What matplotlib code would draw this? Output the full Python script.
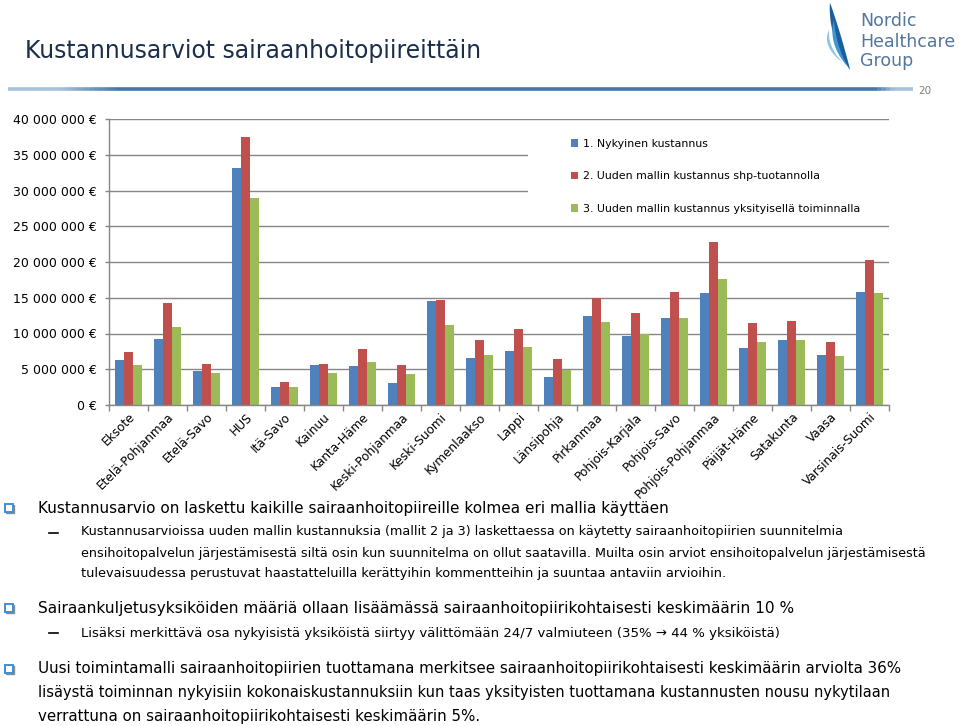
import numpy as np
import matplotlib
matplotlib.use("Agg")
import matplotlib.pyplot as plt
from matplotlib.patches import Rectangle, Polygon
from matplotlib.lines import Line2D
from matplotlib.collections import LineCollection

# ---------------- data ----------------
districts = ["Eksote", "Etelä-Pohjanmaa", "Etelä-Savo", "HUS", "Itä-Savo", "Kainuu",
             "Kanta-Häme", "Keski-Pohjanmaa", "Keski-Suomi", "Kymenlaakso", "Lappi",
             "Länsipohja", "Pirkanmaa", "Pohjois-Karjala", "Pohjois-Savo",
             "Pohjois-Pohjanmaa", "Päijät-Häme", "Satakunta", "Vaasa", "Varsinais-Suomi"]
current_cost = [6.3, 9.2, 4.8, 33.2, 2.5, 5.55, 5.45, 3.1, 14.55, 6.6, 7.5,
                3.95, 12.5, 9.65, 12.2, 15.7, 8.0, 9.1, 7.05, 15.8]
new_shp_cost = [7.4, 14.2, 5.75, 37.5, 3.2, 5.75, 7.8, 5.65, 14.65, 9.1, 10.6,
                6.4, 15.0, 12.9, 15.85, 22.85, 11.4, 11.75, 8.85, 20.3]
new_private_cost = [5.6, 10.95, 4.45, 28.9, 2.5, 4.45, 6.0, 4.35, 11.25, 6.95, 8.1,
                    4.9, 11.6, 9.9, 12.2, 17.6, 8.75, 9.05, 6.8, 15.65]
series_labels = ["1. Nykyinen kustannus",
                 "2. Uuden mallin kustannus shp-tuotannolla",
                 "3. Uuden mallin kustannus yksityisellä toiminnalla"]
y_ticks = [0, 5, 10, 15, 20, 25, 30, 35, 40]
y_ticklabels = ["0 €", "5 000 000 €", "10 000 000 €", "15 000 000 €", "20 000 000 €",
                "25 000 000 €", "30 000 000 €", "35 000 000 €", "40 000 000 €"]

colors = ["#4F81BD", "#C0504D", "#9BBB59"]

W, H = 959, 726
fig = plt.figure(figsize=(W / 100, H / 100), dpi=100)
fig.patch.set_facecolor("white")
plt.rcParams['font.family'] = ['DejaVu Sans']


def fx(x):
    return x / W


def fy(y):
    return 1 - y / H


renderer = fig.canvas.get_renderer()


def fit_text(x, y, s, target_w, fs0=12, **kw):
    t = fig.text(fx(x), fy(y), s, fontsize=fs0, va="center", ha="left", **kw)
    w = t.get_window_extent(renderer).width
    t.set_fontsize(fs0 * target_w / w)
    return t


# ---------------- chart ----------------
ax_l, ax_r, ax_b, ax_t = 109, 889, 405, 119
ax = fig.add_axes([fx(ax_l), fy(ax_b), (ax_r - ax_l) / W, (ax_b - ax_t) / H])
x = np.arange(len(districts))
bw = 0.224
vals = [current_cost, new_shp_cost, new_private_cost]
handles = []
for i, (v, c, lab) in enumerate(zip(vals, colors, series_labels)):
    b = ax.bar(x + (i - 1) * bw, v, width=bw, color=c, label=lab, zorder=2)
    handles.append(b)

ax.set_xlim(-0.5, len(districts) - 0.5)
ax.set_ylim(0, 40)
ax.set_yticks(y_ticks)
ax.set_yticklabels(y_ticklabels, fontsize=9)
ax.set_xticks(x)
ax.set_xticklabels(districts, rotation=45, ha="right", va="top",
                   rotation_mode="anchor", fontsize=8.7)
ax.set_xticks(np.arange(len(districts) + 1) - 0.5, minor=True)
ax.tick_params(axis="x", which="major", length=0, pad=4)
ax.tick_params(axis="x", which="minor", length=4, color="#868686", width=1)
ax.tick_params(axis="y", length=3, color="#868686", width=1, pad=6)
ax.set_axisbelow(True)
ax.yaxis.grid(True, color="#868686", linewidth=1.0)
for s in ["top", "right"]:
    ax.spines[s].set_visible(False)
for s in ["left", "bottom"]:
    ax.spines[s].set_color("#868686")
    ax.spines[s].set_linewidth(1.0)

# white backdrop behind legend
ax.add_patch(Rectangle(((528 - ax_l) / (ax_r - ax_l), (ax_b - 222) / (ax_b - ax_t)),
                       1.0 - (528 - ax_l) / (ax_r - ax_l), (222 - 122) / (ax_b - ax_t),
                       transform=ax.transAxes, facecolor="white", edgecolor="none",
                       zorder=1))
leg = ax.legend(handles=handles, loc="upper left",
                bbox_to_anchor=((571 - ax_l) / (ax_r - ax_l), (ax_b - 139) / (ax_b - ax_t)),
                frameon=False, fontsize=7.9, handlelength=0.65, handleheight=0.65,
                handletextpad=0.4, labelspacing=2.05, borderpad=0, borderaxespad=0)

# ---------------- header ----------------
fit_text(25, 51, "Kustannusarviot sairaanhoitopiireittäin", 456, 20, color="#1B2F4B")

# gradient rule
xs = np.linspace(8, 913, 200)
segs = [[(fx(xs[k]), fy(89)), (fx(xs[k + 1]), fy(89))] for k in range(len(xs) - 1)]
t = np.linspace(0, 1, len(xs) - 1)
alpha = np.clip(np.minimum(t / 0.12, (1 - t) / 0.04), 0.45, 1.0)
cols = [(0.25, 0.47, 0.68, a) for a in alpha]
fig.add_artist(LineCollection(segs, colors=cols, linewidths=2.6, transform=fig.transFigure))
fig.text(fx(918), fy(91), "20", fontsize=7.5, color="#7F7F7F", va="center", ha="left")

# logo swoosh
def blade(x0, y0, x1, y1, bulge, width, color):
    tt = np.linspace(0, 1, 40)
    cx, cy = (x0 + x1) / 2 - bulge, (y0 + y1) / 2
    px = (1 - tt) ** 2 * x0 + 2 * (1 - tt) * tt * cx + tt ** 2 * x1
    py = (1 - tt) ** 2 * y0 + 2 * (1 - tt) * tt * cy + tt ** 2 * y1
    wdt = width * np.sin(np.pi * tt) ** 0.8
    left = np.column_stack([px - wdt / 2, py])
    right = np.column_stack([px + wdt / 2, py])[::-1]
    pts = np.vstack([left, right])
    pts = np.column_stack([fx(pts[:, 0]), fy(pts[:, 1])])
    fig.add_artist(Polygon(pts, closed=True, facecolor=color, edgecolor="none",
                           transform=fig.transFigure))

blade(830, 3, 850, 70, 5, 7, "#1D5E9C")
blade(834, 20, 847, 66, 9, 4, "#3E97D1")
blade(829, 30, 842, 62, 11, 3, "#8EC3E6")

logo_col = "#52769C"
tH = fit_text(860, 42, "Healthcare", 95, 15, color=logo_col)
tN = fig.text(fx(860), fy(21), "Nordic", fontsize=tH.get_fontsize(), color=logo_col,
              va="center", ha="left")
tG = fig.text(fx(860), fy(61), "Group", fontsize=tH.get_fontsize(), color=logo_col,
              va="center", ha="left")

# ---------------- bullets ----------------
def bullet(y):
    fig.add_artist(Rectangle((fx(5.5), fy(y + 4.5)), 8 / W, 8 / H,
                             transform=fig.transFigure, facecolor="none",
                             edgecolor="#8A8A8A", linewidth=1.0))
    fig.add_artist(Rectangle((fx(4.5), fy(y + 3.5)), 8 / W, 8 / H,
                             transform=fig.transFigure, facecolor="white",
                             edgecolor="#3F8FD2", linewidth=1.4))


def dash(y):
    fig.add_artist(Line2D([fx(49), fx(58)], [fy(y), fy(y)], color="black",
                          linewidth=1.2, transform=fig.transFigure))


bullet(508)
fit_text(38, 508, "Kustannusarvio on laskettu kaikille sairaanhoitopiireille kolmea eri mallia käyttäen", 629)
dash(533)
fit_text(81, 532, "Kustannusarvioissa uuden mallin kustannuksia (mallit 2 ja 3) laskettaessa on käytetty sairaanhoitopiirien suunnitelmia", 757)
fit_text(81, 553, "ensihoitopalvelun järjestämisestä siltä osin kun suunnitelma on ollut saatavilla. Muilta osin arviot ensihoitopalvelun järjestämisestä", 838)
fit_text(81, 574, "tulevaisuudessa perustuvat haastatteluilla kerättyihin kommentteihin ja suuntaa antaviin arvioihin.", 642)

bullet(608)
fit_text(38, 608, "Sairaankuljetusyksiköiden määriä ollaan lisäämässä sairaanhoitopiirikohtaisesti keskimäärin 10 %", 750)
dash(633)
fit_text(81, 633, "Lisäksi merkittävä osa nykyisistä yksiköistä siirtyy välittömään 24/7 valmiuteen (35% → 44 % yksiköistä)", 691)

bullet(669)
fit_text(38, 669, "Uusi toimintamalli sairaanhoitopiirien tuottamana merkitsee sairaanhoitopiirikohtaisesti keskimäärin arviolta 36%", 863)
fit_text(38, 692, "lisäystä toiminnan nykyisiin kokonaiskustannuksiin kun taas yksityisten tuottamana kustannusten nousu nykytilaan", 845)
fit_text(38, 716, "verrattuna on sairaanhoitopiirikohtaisesti keskimäärin 5%.", 439)

fig.savefig("out.png", dpi=100, facecolor="white")
